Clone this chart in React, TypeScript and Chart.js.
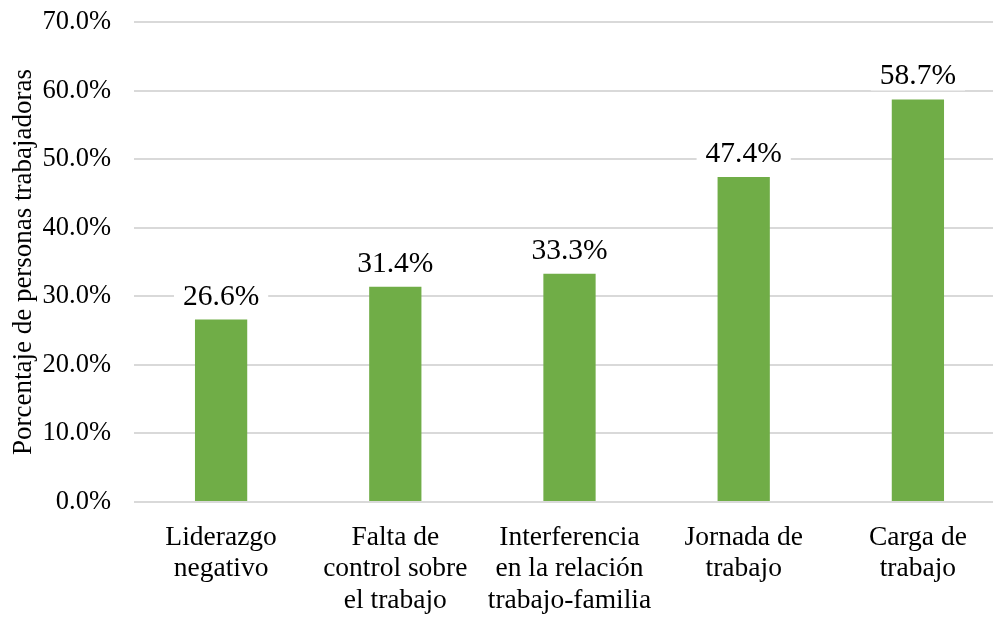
import React, { useEffect, useRef } from "react";
import { Chart, registerables } from "chart.js";

Chart.register(...registerables);

const categories: string[][] = [
  ["Liderazgo", "negativo"],
  ["Falta de", "control sobre", "el trabajo"],
  ["Interferencia", "en la relación", "trabajo-familia"],
  ["Jornada de", "trabajo"],
  ["Carga de", "trabajo"],
];
const values: number[] = [26.6, 31.4, 33.3, 47.4, 58.7];
const yTitle = "Porcentaje de personas trabajadoras";
const yMin = 0;
const yMax = 70;
const yStep = 10;

const FONT = "'Liberation Serif', 'Times New Roman', serif";
const BAR_COLOR = "#70AD47";

const labelPlugin = {
  id: "barLabels",
  afterDatasetsDraw(chart: any) {
    const ctx = chart.ctx;
    const meta = chart.getDatasetMeta(0);
    ctx.save();
    ctx.font = `29.5px ${FONT}`;
    ctx.textAlign = "center";
    ctx.textBaseline = "alphabetic";
    meta.data.forEach((bar: any, i: number) => {
      const text = values[i].toFixed(1) + "%";
      const w = ctx.measureText(text).width;
      const x = bar.x;
      const baseline = bar.y - 15;
      ctx.fillStyle = "#ffffff";
      ctx.fillRect(x - w / 2 - 9, baseline - 27, w + 18, 33);
      ctx.fillStyle = "#000000";
      ctx.fillText(text, x, baseline);
    });
    ctx.restore();
  },
};

export default function App() {
  const canvasRef = useRef<HTMLCanvasElement | null>(null);

  useEffect(() => {
    if (!canvasRef.current) return;
    const chart = new Chart(canvasRef.current, {
      type: "bar",
      data: {
        labels: categories,
        datasets: [
          {
            data: values,
            backgroundColor: BAR_COLOR,
            borderWidth: 0,
            barPercentage: 0.3,
            categoryPercentage: 1,
          },
        ],
      },
      options: {
        animation: false,
        responsive: true,
        maintainAspectRatio: false,
        layout: { padding: { top: 22, right: 0, left: 0, bottom: 0 } },
        plugins: {
          legend: { display: false },
          tooltip: { enabled: false },
        },
        scales: {
          x: {
            grid: { display: false, drawTicks: false },
            border: { display: false },
            ticks: {
              color: "#000",
              font: { family: FONT, size: 27.5, lineHeight: 1.14 },
              padding: 20,
              maxRotation: 0,
              minRotation: 0,
              autoSkip: false,
            },
            afterFit(scale: any) {
              scale.height = 116;
              scale.paddingLeft = 0;
              scale.paddingRight = 0;
            },
          },
          y: {
            min: yMin,
            max: yMax,
            border: { display: false },
            grid: { color: "#d9d9d9", lineWidth: 2, drawTicks: false },
            ticks: {
              stepSize: yStep,
              color: "#000",
              padding: 23,
              font: { family: FONT, size: 26.5 },
              callback: (v: any) => Number(v).toFixed(1) + "%",
            },
            title: {
              display: true,
              text: yTitle,
              color: "#000",
              font: { family: FONT, size: 27, lineHeight: 1.2 },
              padding: { top: 8, bottom: 0 },
            },
            afterFit(scale: any) {
              scale.width = 134;
              scale.paddingTop = 0;
              scale.paddingBottom = 0;
            },
          },
        },
      },
      plugins: [labelPlugin],
    });
    return () => chart.destroy();
  }, []);

  return (
    <div style={{ position: "absolute", left: 0, top: 0, width: 993, height: 618, overflow: "hidden", background: "#fff" }}>
      <div style={{ position: "relative", width: 1005, height: 618 }}>
        <canvas ref={canvasRef} />
      </div>
    </div>
  );
}
